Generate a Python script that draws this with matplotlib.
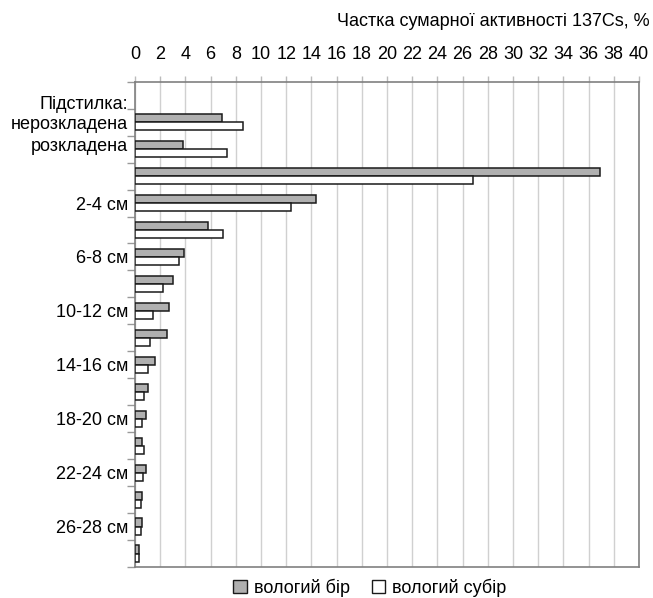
import matplotlib
matplotlib.use("Agg")
import matplotlib.pyplot as plt
import matplotlib.transforms as mtransforms
from matplotlib.patches import Patch
import numpy as np

plt.rcParams['font.family'] = ['Liberation Sans', 'DejaVu Sans']

categories = ["Підстилка:", "нерозкладена", "розкладена",
              "0-2 см", "2-4 см", "4-6 см", "6-8 см", "8-10 см", "10-12 см",
              "12-14 см", "14-16 см", "16-18 см", "18-20 см", "20-22 см",
              "22-24 см", "24-26 см", "26-28 см", "28-30 см"]
tick_labels = ["Підстилка:", "нерозкладена", "розкладена",
               "", "2-4 см", "", "6-8 см", "", "10-12 см",
               "", "14-16 см", "", "18-20 см", "",
               "22-24 см", "", "26-28 см", ""]
bir = [np.nan, 6.9, 3.8, 36.9, 14.4, 5.8, 3.9, 3.0, 2.7, 2.5, 1.6, 1.0,
       0.85, 0.55, 0.9, 0.55, 0.55, 0.35]
subir = [np.nan, 8.6, 7.3, 26.8, 12.4, 7.0, 3.5, 2.2, 1.4, 1.2, 1.0, 0.75,
         0.55, 0.75, 0.65, 0.45, 0.45, 0.35]
series_names = ["вологий бір", "вологий субір"]
x_ticks = list(range(0, 41, 2))
title = "Частка сумарної активності 137Cs, %"

FS = 13
W, H = 653, 598
fig = plt.figure(figsize=(W / 100, H / 100), dpi=100)
ax = fig.add_axes([135 / W, 1 - 567 / H, (639 - 135) / W, (567 - 81.7) / H])

y = np.arange(len(categories))
bh = 0.3
ax.barh(y - bh / 2, bir, height=bh, color="#b0b0b0", edgecolor="#1a1a1a",
        linewidth=1.1, zorder=3)
ax.barh(y + bh / 2, subir, height=bh, color="white", edgecolor="#1a1a1a",
        linewidth=1.1, zorder=3)

ax.set_xlim(0, 40)
ax.set_ylim(len(categories) - 0.5, -0.5)
ax.xaxis.tick_top()
ax.set_xticks(x_ticks)
ax.set_xticklabels([str(v) for v in x_ticks], fontsize=FS)
ax.tick_params(axis='x', which='major', length=4, color="#bbbbbb", pad=9.5,
               width=1)
ax.grid(axis='x', color="#d0d0d0", linewidth=1, zorder=0)

ax.set_yticks(y)
ax.set_yticklabels(tick_labels, fontsize=FS)
ax.set_yticks(np.arange(-0.5, len(categories), 1), minor=True)
ax.tick_params(axis='y', which='major', length=0, pad=5)
ax.tick_params(axis='y', which='minor', length=6, color="#999999", width=1)

for sp in ax.spines.values():
    sp.set_color("#808080")
    sp.set_linewidth(1.2)

# small manual offsets of the litter labels
labs = ax.get_yticklabels()
off_down = mtransforms.ScaledTranslation(0, -7 / 100, fig.dpi_scale_trans)
off_up = mtransforms.ScaledTranslation(0, 5 / 100, fig.dpi_scale_trans)
labs[0].set_transform(labs[0].get_transform() + off_down)
labs[2].set_transform(labs[2].get_transform() + off_up)

fig.text(650 / W, 1 - 21 / H, title, ha='right', va='center', fontsize=FS)

handles = [Patch(facecolor="#b0b0b0", edgecolor="#1a1a1a", linewidth=1.0),
           Patch(facecolor="white", edgecolor="#1a1a1a", linewidth=1.0)]
fig.legend(handles, series_names, loc='center', bbox_to_anchor=(370 / W, 1 - 588 / H),
           ncol=2, frameon=False, fontsize=FS, handlelength=0.75, handleheight=0.75,
           handletextpad=0.4, columnspacing=1.2, borderpad=0.1, borderaxespad=0)

fig.savefig("out.png", dpi=100)
